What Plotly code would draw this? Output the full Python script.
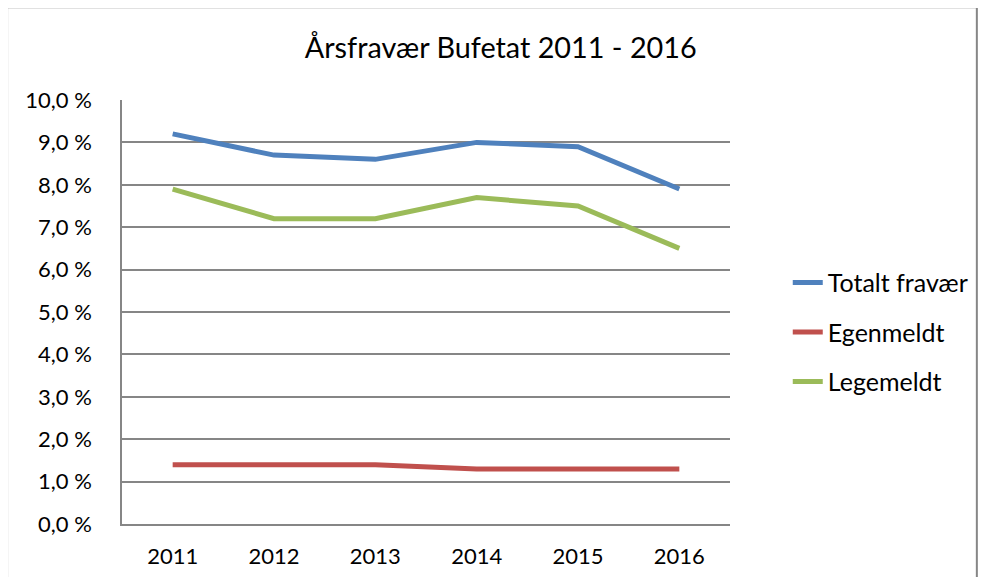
import plotly.graph_objects as go

years = ["2011", "2012", "2013", "2014", "2015", "2016"]
totalt = [9.2, 8.7, 8.6, 9.0, 8.9, 7.9]
egenmeldt = [1.4, 1.4, 1.4, 1.3, 1.3, 1.3]
legemeldt = [7.9, 7.2, 7.2, 7.7, 7.5, 6.5]
y_ticks = [0, 1, 2, 3, 4, 5, 6, 7, 8, 9, 10]
y_tick_labels = ["0,0 %", "1,0 %", "2,0 %", "3,0 %", "4,0 %", "5,0 %",
                 "6,0 %", "7,0 %", "8,0 %", "9,0 %", "10,0 %"]

font_family = "Lato, 'Open Sans', sans-serif"

fig = go.Figure()
for name, vals, color in [("Totalt fravær", totalt, "#4F81BD"),
                          ("Egenmeldt", egenmeldt, "#C0504D"),
                          ("Legemeldt", legemeldt, "#9BBB59")]:
    fig.add_trace(go.Scatter(x=years, y=vals, name=name, mode="lines",
                             legendgroup=name,
                             line=dict(color=color, width=5)))

# page body has an 8px margin; figure is 970x569 so it fits the 986x585 window
fig.update_layout(
    width=970, height=569,
    margin=dict(l=114, r=248, t=92, b=53, autoexpand=False),
    paper_bgcolor="white", plot_bgcolor="white",
    font=dict(family=font_family, size=22, color="#000000"),
    title=dict(text="Årsfravær Bufetat 2011 - 2016", x=0.508, xanchor="center",
               y=0.929, yanchor="middle", font=dict(size=28.8, family=font_family)),
    showlegend=True,
    legend=dict(x=1.095, xanchor="left", y=0.452, yanchor="middle",
                font=dict(size=25), tracegroupgap=14, itemwidth=30,
                bgcolor="rgba(0,0,0,0)"),
    shapes=[dict(type="rect", xref="paper", yref="paper",
                 x0=-0.189, x1=1.406, y0=-0.16, y1=1.219,
                 line=dict(color="#868686", width=2), layer="below")],
)
fig.update_xaxes(type="category", range=[-0.5, 5.5], showgrid=False,
                 showline=True, linecolor="#868686", linewidth=1.5,
                 ticks="", ticklabelstandoff=12, tickfont=dict(size=22))
fig.update_yaxes(range=[0, 10], tickvals=y_ticks, ticktext=y_tick_labels,
                 showgrid=True, gridcolor="#868686", gridwidth=1.5,
                 showline=True, linecolor="#868686", linewidth=1.5,
                 zeroline=False, ticks="", ticklabelstandoff=24,
                 tickfont=dict(size=22))

fig.write_html("out.html")
